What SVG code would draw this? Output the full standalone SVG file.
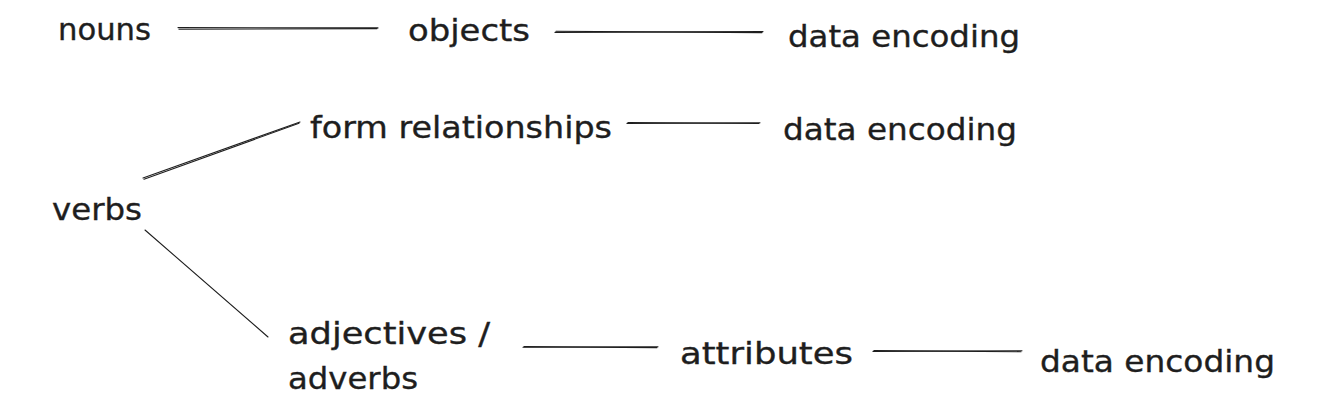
<svg xmlns="http://www.w3.org/2000/svg" width="1317" height="412" viewBox="0 0 1317 412">
<style>
.t{font-family:"DejaVu Sans","Liberation Sans",sans-serif;font-size:30px;fill:#1e1e1e;stroke:#1e1e1e;stroke-width:0.35}
.c path{fill:none;stroke:#1e1e1e;stroke-width:1.1;stroke-linecap:round}
</style>
<rect width="1317" height="412" fill="#ffffff"/>
<g class="c" id="connectors">
<path d="M178 27.6 L378 27.9"/><path d="M179 29.2 L377 28.6"/>
<path d="M555 32.4 L763 31.6"/><path d="M556 31.2 L762 32.6"/>
<path d="M143 178 L300 122"/><path d="M144 179.2 L299 123.3"/>
<path d="M627 123.4 L760 122.8"/><path d="M628 122.6 L759 123.5"/>
<path d="M145 230 L268 337"/>
<path d="M523 347.3 L658 346.7"/><path d="M524 346.6 L657 347.6"/>
<path d="M873 351.4 L1022 350.8"/><path d="M874 350.6 L1021 351.7"/>
</g>
<g id="n-nouns"><text class="t" x="58" y="40" textLength="93" lengthAdjust="spacingAndGlyphs">nouns</text></g>
<g id="n-objects"><text class="t" x="408" y="41" textLength="122" lengthAdjust="spacingAndGlyphs">objects</text></g>
<g id="n-data1"><text class="t" x="788" y="47" textLength="232" lengthAdjust="spacingAndGlyphs">data encoding</text></g>
<g id="n-form"><text class="t" x="310" y="138" textLength="302" lengthAdjust="spacingAndGlyphs">form relationships</text></g>
<g id="n-data2"><text class="t" x="783" y="140" textLength="234" lengthAdjust="spacingAndGlyphs">data encoding</text></g>
<g id="n-verbs"><text class="t" x="52" y="220" textLength="90" lengthAdjust="spacingAndGlyphs">verbs</text></g>
<g id="n-adj"><text class="t" x="288" y="344" textLength="202" lengthAdjust="spacingAndGlyphs">adjectives /</text><text class="t" x="288" y="389" textLength="130" lengthAdjust="spacingAndGlyphs">adverbs</text></g>
<g id="n-attributes"><text class="t" x="680" y="364" textLength="173" lengthAdjust="spacingAndGlyphs">attributes</text></g>
<g id="n-data3"><text class="t" x="1040" y="372" textLength="235" lengthAdjust="spacingAndGlyphs">data encoding</text></g>
</svg>
